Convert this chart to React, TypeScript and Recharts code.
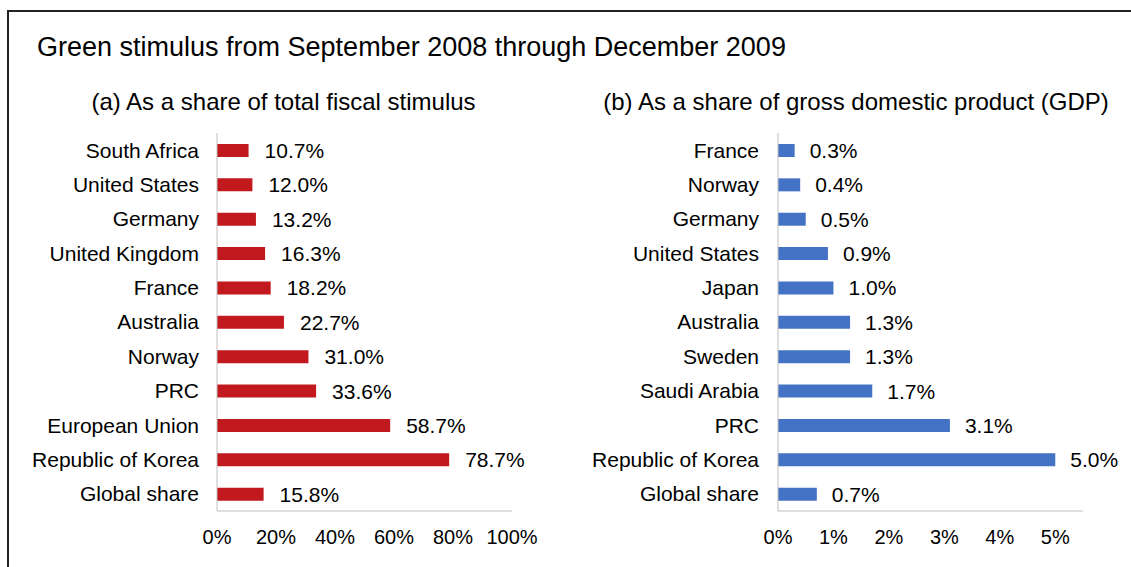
import { BarChart, Bar, XAxis, YAxis, LabelList } from 'recharts'

// share of total fiscal stimulus (%)
const fiscalCountries = [
  'South Africa', 'United States', 'Germany', 'United Kingdom', 'France', 'Australia',
  'Norway', 'PRC', 'European Union', 'Republic of Korea', 'Global share',
]
const fiscalShare = [10.7, 12.0, 13.2, 16.3, 18.2, 22.7, 31.0, 33.6, 58.7, 78.7, 15.8]
const fiscalTicks = [0, 20, 40, 60, 80, 100]

// share of GDP (%)
const gdpCountries = [
  'France', 'Norway', 'Germany', 'United States', 'Japan', 'Australia',
  'Sweden', 'Saudi Arabia', 'PRC', 'Republic of Korea', 'Global share',
]
const gdpShare = [0.3, 0.4, 0.5, 0.9, 1.0, 1.3, 1.3, 1.7, 3.1, 5.0, 0.7]
const gdpTicks = [0, 1, 2, 3, 4, 5]

const fiscalData = fiscalCountries.map((name, i) => ({ name, value: fiscalShare[i] }))
const gdpData = gdpCountries.map((name, i) => ({ name, value: gdpShare[i] }))

const FONT = '"Liberation Sans", Arial, sans-serif'
const axisStroke = '#BFBFBF'
const pct = (v: number) => `${v}%`
const pct1 = (v: any) => `${Number(v).toFixed(1)}%`

export default function App() {
  return (
    <div style={{ position: 'fixed', left: 0, top: 0, width: 1131, height: 567, overflow: 'hidden', background: '#fff', fontFamily: FONT, color: '#000' }}>
      <div style={{ position: 'absolute', left: 7, top: 10, width: 1300, height: 800, border: '2px solid #222' }} />
      <div style={{ position: 'absolute', left: 37, top: 32, fontSize: 27, whiteSpace: 'nowrap' }}>
        Green stimulus from September 2008 through December 2009
      </div>
      <div style={{ position: 'absolute', left: 0, width: 567, top: 88, fontSize: 24, textAlign: 'center', whiteSpace: 'nowrap' }}>
        (a) As a share of total fiscal stimulus
      </div>
      <div style={{ position: 'absolute', left: 556, width: 600, top: 88, fontSize: 24, textAlign: 'center', whiteSpace: 'nowrap' }}>
        (b) As a share of gross domestic product (GDP)
      </div>

      <div style={{ position: 'absolute', left: 0, top: 0 }}>
        <BarChart width={560} height={567} data={fiscalData} layout="vertical"
          margin={{ top: 133, right: 48, bottom: 26, left: 0 }}>
          <XAxis type="number" domain={[0, 100]} ticks={fiscalTicks} tickFormatter={pct}
            height={30} tickLine={false} tickSize={0} tickMargin={19}
            axisLine={{ stroke: axisStroke }} tick={{ fill: '#000', fontSize: 20, fontFamily: FONT }} />
          <YAxis type="category" dataKey="name" width={217} tickLine={false} tickSize={0} tickMargin={18}
            axisLine={{ stroke: axisStroke }} interval={0} tick={{ fill: '#000', fontSize: 21, fontFamily: FONT }} />
          <Bar dataKey="value" fill="#C1191E" barSize={13} isAnimationActive={false}>
            <LabelList dataKey="value" position="right" offset={16} formatter={pct1}
              style={{ fill: '#000', fontSize: 21, fontFamily: FONT }} />
          </Bar>
        </BarChart>
      </div>

      <div style={{ position: 'absolute', left: 560, top: 0 }}>
        <BarChart width={571} height={567} data={gdpData} layout="vertical"
          margin={{ top: 133, right: 48, bottom: 26, left: 0 }}>
          <XAxis type="number" domain={[0, 5.5]} ticks={gdpTicks} tickFormatter={pct}
            height={30} tickLine={false} tickSize={0} tickMargin={19}
            axisLine={{ stroke: axisStroke }} tick={{ fill: '#000', fontSize: 20, fontFamily: FONT }} />
          <YAxis type="category" dataKey="name" width={218} tickLine={false} tickSize={0} tickMargin={19}
            axisLine={{ stroke: axisStroke }} interval={0} tick={{ fill: '#000', fontSize: 21, fontFamily: FONT }} />
          <Bar dataKey="value" fill="#4472C4" barSize={13} isAnimationActive={false}>
            <LabelList dataKey="value" position="right" offset={15} formatter={pct1}
              style={{ fill: '#000', fontSize: 21, fontFamily: FONT }} />
          </Bar>
        </BarChart>
      </div>
    </div>
  )
}
